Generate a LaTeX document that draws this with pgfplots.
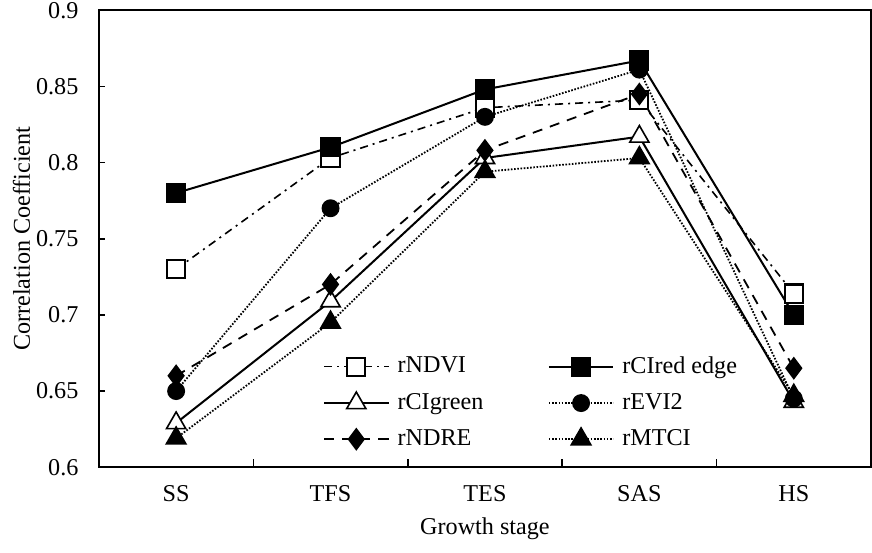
\documentclass[border=0pt]{standalone}
\usepackage{fontspec}
\setmainfont{Liberation Serif}
\usepackage{pgfplots}
\pgfplotsset{compat=1.18}

\begin{document}
\begin{tikzpicture}
\begin{axis}[
    width=383.5pt, height=227pt, scale only axis,
    xmin=-0.5, xmax=4.5, ymin=0.6, ymax=0.9,
    xtick={0,1,2,3,4},
    xticklabels={SS,TFS,TES,SAS,HS},
    minor xtick={0.5,1.5,2.5,3.5},
    ytick={0.6,0.65,0.7,0.75,0.8,0.85,0.9},
    yticklabels={0.6,0.65,0.7,0.75,0.8,0.85,0.9},
    xtick pos=lower, ytick pos=left,
    tick align=inside,
    major x tick style={draw=none},
    major tick length=3pt, minor tick length=4pt,
    every tick/.style={black, line width=0.8pt},
    axis line style={line width=1pt},
    font=\fontsize{12}{14}\selectfont,
    /pgf/number format/assume math mode=true,
    xticklabel style={yshift=-5.5pt},
    yticklabel style={xshift=-9pt, inner sep=1pt},
    xlabel={Growth stage},
    ylabel={Correlation Coefficient},
    xlabel style={yshift=-1pt},
    ylabel style={yshift=-1.5pt},
    legend columns=2,
    legend cell align=left,
    legend style={at={(rel axis cs:0.282,0.022)}, anchor=south west,
        draw=none, fill=none, row sep=4.5pt,
        font=\fontsize{12}{14}\selectfont,
        /tikz/every odd column/.append style={column sep=2pt},
        /tikz/every even column/.append style={column sep=30pt}},
    legend image code/.code={%
        \draw[mark repeat=2,mark phase=2] plot coordinates {(0pt,0pt) (16pt,0pt) (32pt,0pt)};},
]
% rNDVI
\addplot[black, line width=0.8pt, dash pattern=on 4pt off 2.5pt on 1pt off 2.5pt,
    mark=square*, mark size=4.5pt, mark options={solid, fill=white, line width=1pt}]
    coordinates {(0,0.730) (1,0.803) (2,0.836) (3,0.841) (4,0.714)};
% rCIred edge
\addplot[black, line width=1pt, mark=square*, mark size=4.5pt, mark options={solid, fill=black}]
    coordinates {(0,0.780) (1,0.810) (2,0.848) (3,0.867) (4,0.700)};
% rCIgreen
\addplot[black, line width=1pt, mark=triangle*, mark size=5.5pt, mark options={solid, fill=white, line width=0.8pt}]
    coordinates {(0,0.629) (1,0.709) (2,0.803) (3,0.817) (4,0.643)};
% rEVI2
\addplot[black, line width=0.9pt, dash pattern=on 0.8pt off 0.8pt, mark=*, mark size=4pt, mark options={solid, fill=black}]
    coordinates {(0,0.650) (1,0.770) (2,0.830) (3,0.861) (4,0.645)};
% rNDRE
\addplot[black, line width=0.9pt, dash pattern=on 5pt off 4pt, mark=diamond*, mark size=5pt, mark options={solid, fill=black}]
    coordinates {(0,0.660) (1,0.720) (2,0.808) (3,0.845) (4,0.665)};
% rMTCI
\addplot[black, line width=0.9pt, dash pattern=on 0.8pt off 0.8pt, mark=triangle*, mark size=5.5pt, mark options={solid, fill=black}]
    coordinates {(0,0.619) (1,0.695) (2,0.794) (3,0.803) (4,0.647)};
\legend{rNDVI, rCIred edge, rCIgreen, rEVI2, rNDRE, rMTCI}
\end{axis}
% a little white margin, as in the original
\path ([xshift=-3pt]current bounding box.west);
\path ([yshift=-3pt]current bounding box.south);
\end{tikzpicture}
\end{document}
